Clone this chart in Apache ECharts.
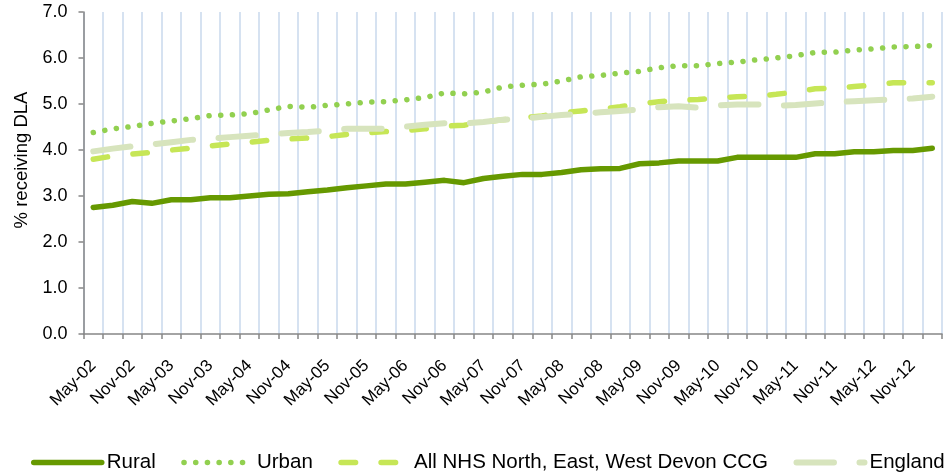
<!DOCTYPE html>
<html>
<head>
<meta charset="utf-8">
<script src="https://cdn.jsdelivr.net/npm/echarts@6/dist/echarts.min.js"></script>
<style>
html,body{margin:0;padding:0;background:#fff;}
#chart{width:944px;height:474px;}
</style>
</head>
<body>
<div id="chart"></div>
<script>
var categories = ['May-02','Aug-02','Nov-02','Feb-03','May-03','Aug-03','Nov-03','Feb-04','May-04','Aug-04','Nov-04','Feb-05','May-05','Aug-05','Nov-05','Feb-06','May-06','Aug-06','Nov-06','Feb-07','May-07','Aug-07','Nov-07','Feb-08','May-08','Aug-08','Nov-08','Feb-09','May-09','Aug-09','Nov-09','Feb-10','May-10','Aug-10','Nov-10','Feb-11','May-11','Aug-11','Nov-11','Feb-12','May-12','Aug-12','Nov-12','Feb-13'];

var rural = [2.75,2.80,2.88,2.84,2.92,2.92,2.96,2.96,3.00,3.04,3.05,3.09,3.13,3.18,3.22,3.26,3.26,3.30,3.34,3.29,3.38,3.43,3.47,3.47,3.51,3.57,3.59,3.60,3.70,3.72,3.76,3.76,3.76,3.84,3.84,3.84,3.84,3.92,3.92,3.96,3.96,3.99,3.99,4.04];

var urban = [4.38,4.46,4.51,4.58,4.63,4.68,4.75,4.76,4.79,4.87,4.95,4.93,4.97,5.00,5.04,5.05,5.09,5.14,5.24,5.22,5.26,5.37,5.41,5.43,5.50,5.59,5.62,5.67,5.71,5.79,5.83,5.83,5.88,5.91,5.96,6.00,6.05,6.12,6.13,6.17,6.20,6.24,6.25,6.27];

var nhs = [3.80,3.87,3.91,3.95,4.00,4.04,4.09,4.13,4.17,4.21,4.24,4.26,4.29,4.34,4.37,4.40,4.42,4.46,4.52,4.54,4.60,4.66,4.70,4.74,4.81,4.85,4.89,4.94,5.00,5.05,5.08,5.10,5.13,5.16,5.17,5.21,5.26,5.33,5.34,5.38,5.41,5.46,5.46,5.46];

var england = [3.97,4.03,4.08,4.12,4.17,4.22,4.25,4.28,4.31,4.34,4.37,4.39,4.42,4.46,4.46,4.46,4.51,4.55,4.58,4.58,4.61,4.66,4.68,4.72,4.76,4.79,4.82,4.85,4.88,4.93,4.95,4.92,4.97,4.99,4.99,4.96,4.98,5.01,5.04,5.06,5.08,5.10,5.12,5.16];

var seriesNames = ['Rural','Urban','All NHS North, East, West Devon CCG','England'];
var yTicks = [0,1,2,3,4,5,6,7];

var FONT = '"Liberation Sans", Arial, sans-serif';
var chart = echarts.init(document.getElementById('chart'), null, {renderer:'canvas'});

function lineSeries(name, data, color, width, dash) {
  return {
    name: name,
    type: 'line',
    data: data,
    symbol: 'none',
    smooth: false,
    animation: false,
    lineStyle: {color: color, width: width, type: dash, cap: 'round', join: 'round'},
    itemStyle: {color: color},
    emphasis: {disabled: true}
  };
}

chart.setOption({
  animation: false,
  backgroundColor: '#ffffff',
  grid: {left: 83.5, right: 2, top: 12, bottom: 140, containLabel: false},
  legend: {
    left: 31,
    top: 452,
    width: 1000,
    padding: 0,
    itemWidth: 68,
    itemHeight: 14,
    itemGap: 25.5,
    lineStyle: {width: 'inherit', type: 'inherit', cap: 'round'},
    itemStyle: {opacity: 0},
    textStyle: {fontFamily: FONT, fontSize: 20.5, color: '#000'},
    data: seriesNames
  },
  xAxis: {
    type: 'category',
    data: categories,
    boundaryGap: true,
    axisLine: {lineStyle: {color: '#868686', width: 1.5}},
    axisTick: {show: true, interval: 0, length: 5, lineStyle: {color: '#868686', width: 1.5}},
    axisLabel: {interval: 1, rotate: 45, margin: 29, fontFamily: FONT, fontSize: 17, color: '#000'},
    splitLine: {show: true, interval: 0, lineStyle: {color: '#c9d9ec', width: 1.5}}
  },
  yAxis: {
    type: 'value',
    min: 0, max: 7, interval: 1,
    name: '% receiving DLA',
    nameLocation: 'middle',
    nameGap: 50,
    nameRotate: 90,
    nameTextStyle: {fontFamily: FONT, fontSize: 18.5, color: '#000', padding: [0,0,0,26]},
    axisLine: {show: true, lineStyle: {color: '#868686', width: 1.5}},
    axisTick: {show: true, length: 5, lineStyle: {color: '#868686', width: 1.5}},
    axisLabel: {formatter: function(v){return v.toFixed(1);}, margin: 16, fontFamily: FONT, fontSize: 18, color: '#000'},
    splitLine: {show: false}
  },
  series: [
    lineSeries(seriesNames[0], rural, '#669900', 5.5, 'solid'),
    lineSeries(seriesNames[1], urban, '#92d050', 5.5, [0.1, 11.6]),
    lineSeries(seriesNames[2], nhs, '#c6e656', 5.5, [14.5, 25.5]),
    lineSeries(seriesNames[3], england, '#d7e4bd', 6, [37.5, 25.5])
  ]
});
</script>
</body>
</html>
